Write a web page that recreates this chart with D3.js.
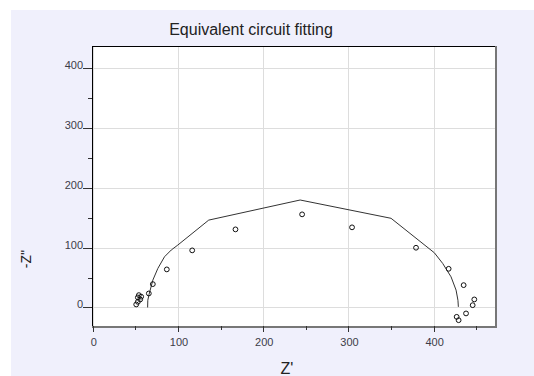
<!DOCTYPE html>
<html><head><meta charset="utf-8">
<script src="https://cdn.jsdelivr.net/npm/d3@7"></script>
<style>body{margin:0;background:#fff;}svg{display:block;font-family:Arial,"Liberation Sans",sans-serif;}</style>
</head><body>
<svg id="c" width="534" height="376"></svg>
<script>
const title = "Equivalent circuit fitting";
const xLabel = "Z'";
const yLabel = "-Z''";
const xTicks = [0, 100, 200, 300, 400];
const yTicks = [0, 100, 200, 300, 400];
const xMinor = [50, 150, 250, 350, 450];
const yMinor = [50, 150, 250, 350];
// measured points (Z', -Z'')
const measZr = [50.9, 52.8, 55.6, 54.0, 52.8, 56.7, 65.7, 70.4, 86.8, 116.6, 167.4, 245.6, 304.2, 379.3, 417.6, 435.2, 447.7, 445.8, 438.0, 427.0, 429.3];
const measZi = [5.0, 9.4, 13.4, 20.6, 16.7, 18.0, 23.4, 39.0, 63.6, 95.4, 130.5, 155.6, 133.9, 99.8, 64.6, 37.3, 13.4, 3.8, -10.0, -15.7, -21.3];
// fitted curve
const fitZr = [64.3, 64.5, 66.0, 70.4, 76.3, 84.1, 92.0, 99.7, 136.0, 243.3, 350.0, 400.8, 410.6, 420.4, 426.3, 428.5, 429.0];
const fitZi = [0.0, 12.0, 22.0, 45.7, 65.3, 84.7, 96.0, 104.3, 146.0, 179.6, 149.0, 91.4, 73.6, 51.2, 29.0, 12.0, 1.0];

const svg = d3.select("#c");
svg.append("rect").attr("x", 11).attr("y", 10).attr("width", 523).attr("height", 366).attr("fill", "#f0f0fc");

const L = 92, R = 495, T = 46, B = 326;
const x = d3.scaleLinear().domain([-1, 472]).range([L, R]);
const y = d3.scaleLinear().domain([-31, 437]).range([B, T]);

svg.append("rect").attr("x", L).attr("y", T).attr("width", R - L).attr("height", B - T).attr("fill", "#fff");

// grid
const g = svg.append("g");
g.selectAll(".gx").data(xTicks).join("line")
  .attr("x1", d => Math.round(x(d)) + 0.5).attr("x2", d => Math.round(x(d)) + 0.5)
  .attr("y1", T).attr("y2", B).attr("stroke", "#dddddd");
g.selectAll(".gy").data(yTicks).join("line")
  .attr("y1", d => Math.round(y(d)) + 0.5).attr("y2", d => Math.round(y(d)) + 0.5)
  .attr("x1", L).attr("x2", R).attr("stroke", "#dddddd");

// fit line
const line = d3.line().x(d => x(d[0])).y(d => y(d[1]));
svg.append("path").datum(fitZr.map((v, i) => [v, fitZi[i]]))
  .attr("d", line).attr("fill", "none").attr("stroke", "#333").attr("stroke-width", 1);

// measured
svg.selectAll(".pt").data(measZr.map((v, i) => [v, measZi[i]])).join("circle")
  .attr("cx", d => x(d[0])).attr("cy", d => y(d[1])).attr("r", 2.4)
  .attr("fill", "none").attr("stroke", "#111").attr("stroke-width", 1);

// border
svg.append("line").attr("x1", R + 1).attr("x2", R + 1).attr("y1", T).attr("y2", B + 2).attr("stroke", "#777").attr("stroke-width", 2);
svg.append("line").attr("x1", L).attr("x2", R + 2).attr("y1", B + 1).attr("y2", B + 1).attr("stroke", "#777").attr("stroke-width", 2);
svg.append("line").attr("x1", L).attr("x2", R).attr("y1", T + 0.5).attr("y2", T + 0.5).attr("stroke", "#000");
svg.append("line").attr("x1", L + 0.5).attr("x2", L + 0.5).attr("y1", T).attr("y2", B).attr("stroke", "#000");

// y axis ticks
const ya = svg.append("g");
ya.selectAll(".ym").data(yTicks).join("line")
  .attr("x1", L - 9).attr("x2", L).attr("y1", d => Math.round(y(d)) + 0.5).attr("y2", d => Math.round(y(d)) + 0.5).attr("stroke", "#333");
ya.selectAll(".yn").data(yMinor).join("line")
  .attr("x1", L - 4).attr("x2", L).attr("y1", d => Math.round(y(d)) + 0.5).attr("y2", d => Math.round(y(d)) + 0.5).attr("stroke", "#333");
ya.selectAll(".yl").data(yTicks).join("text")
  .attr("x", L - 9).attr("y", d => y(d) + 1).attr("text-anchor", "end")
  .attr("font-size", 11).attr("fill", "#3c3c48").text(d => d);

// x axis ticks
const xa = svg.append("g");
xa.selectAll(".xm").data(xTicks).join("line")
  .attr("x1", d => Math.round(x(d)) + 0.5).attr("x2", d => Math.round(x(d)) + 0.5).attr("y1", B).attr("y2", B + 6).attr("stroke", "#333");
xa.selectAll(".xn").data(xMinor).join("line")
  .attr("x1", d => Math.round(x(d)) + 0.5).attr("x2", d => Math.round(x(d)) + 0.5).attr("y1", B).attr("y2", B + 4).attr("stroke", "#333");
xa.selectAll(".xl").data(xTicks).join("text")
  .attr("x", d => x(d) + 1).attr("y", 346).attr("text-anchor", "middle")
  .attr("font-size", 11).attr("fill", "#3c3c48").text(d => d);

// titles
svg.append("text").attr("x", 251).attr("y", 35).attr("text-anchor", "middle")
  .attr("font-size", 16).attr("fill", "#222").text(title);
svg.append("text").attr("x", 287).attr("y", 374).attr("text-anchor", "middle")
  .attr("font-size", 16).attr("fill", "#222").text(xLabel);
svg.append("text").attr("transform", "translate(31,259) rotate(-90)").attr("text-anchor", "middle")
  .attr("font-size", 14).attr("fill", "#222").text(yLabel);
</script>
</body></html>
